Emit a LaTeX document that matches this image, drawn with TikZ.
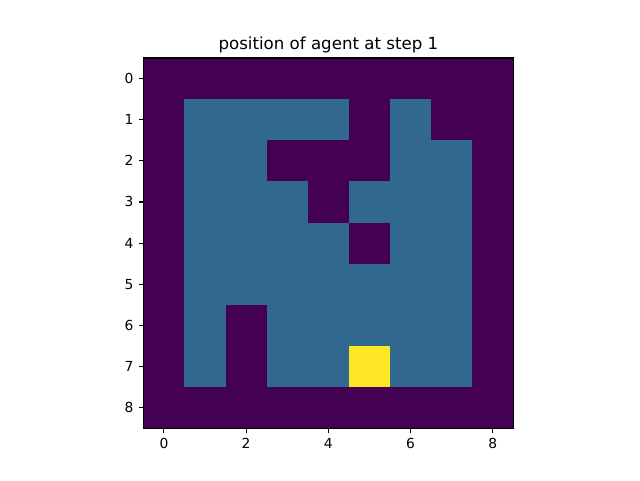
\documentclass[tikz,border=0pt]{standalone}
\usepackage{fontspec}
\setmainfont{DejaVu Sans}
\usepackage{xcolor}
\definecolor{wallcol}{HTML}{440154}
\definecolor{floorcol}{HTML}{31688E}
\definecolor{agentcol}{HTML}{FDE725}
\tikzset{
  wall/.style={fill=wallcol,draw=none},
  floor/.style={fill=floorcol,draw=none},
  agent/.style={fill=agentcol,draw=none},
  spine/.style={draw=black,line width=0.95pt},
  tickmark/.style={draw=black,line width=0.95pt},
  ticklab/.style={inner sep=0pt,font=\fontsize{11.8}{14}\selectfont},
}

\begin{document}
\begin{tikzpicture}[x=1.2333cm,y=-1.2333cm]
  \useasboundingbox (-3.987,-1.912) rectangle (11.58,9.764);
  % the maze
  \fill[wall] (-0.5,-0.5) rectangle (8.5,8.5);
  \foreach \c/\r in {1/1,2/1,3/1,4/1,6/1,
                     1/2,2/2,6/2,7/2,
                     1/3,2/3,3/3,5/3,6/3,7/3,
                     1/4,2/4,3/4,4/4,6/4,7/4,
                     1/5,2/5,3/5,4/5,5/5,6/5,7/5,
                     1/6,3/6,4/6,5/6,6/6,7/6,
                     1/7,3/7,4/7,6/7,7/7}
    \fill[floor] (\c-0.5,\r-0.5) rectangle (\c+0.5,\r+0.5);
  \fill[agent] (4.5,6.5) rectangle (5.5,7.5);
  \draw[spine] (-0.5,-0.5) rectangle (8.5,8.5);
  % ticks
  \foreach \k in {0,...,8}{
    \draw[tickmark] (-0.5,\k) -- (-0.618,\k);
    \node[ticklab,anchor=east] (ylab\k) at (-0.736,\k) {\k};
  }
  \foreach \k in {0,2,...,8}{
    \draw[tickmark] (\k,8.5) -- (\k,8.618);
    \node[ticklab,anchor=north] (xlab\k) at (\k,8.736) {\k};
  }
  \node[inner sep=0pt,anchor=base,font=\fontsize{14.2}{17}\selectfont] (title)
    at (4,-0.702) {position of agent at step 1};
\end{tikzpicture}
\end{document}
